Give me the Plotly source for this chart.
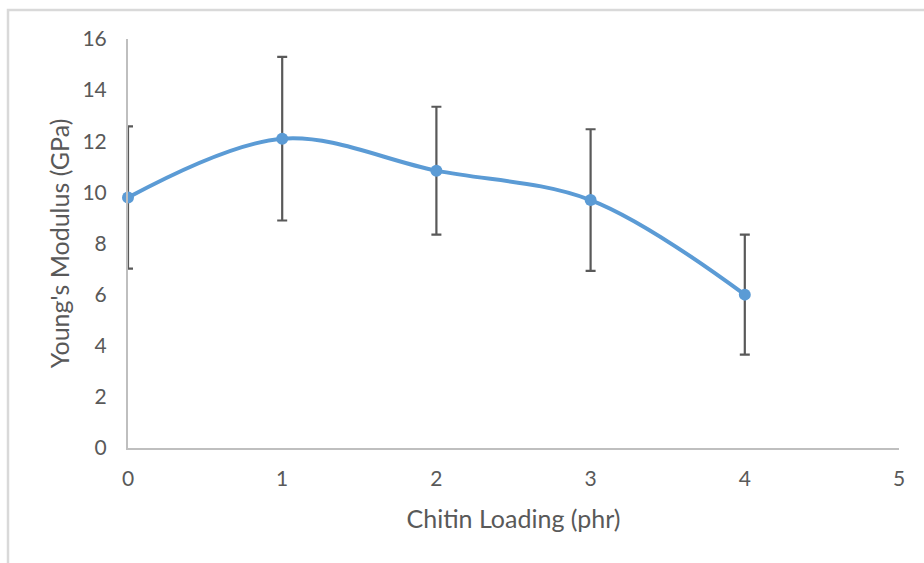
import plotly.graph_objects as go

chitin_loading = [0, 1, 2, 3, 4]
youngs_modulus = [9.8, 12.1, 10.85, 9.7, 6.0]
error = [2.78, 3.2, 2.5, 2.77, 2.35]
x_ticks = [0, 1, 2, 3, 4, 5]
y_ticks = [0, 2, 4, 6, 8, 10, 12, 14, 16]

font = "Lato, 'Open Sans', sans-serif"
grey = "#595959"

fig = go.Figure()
fig.add_trace(go.Scatter(
    x=chitin_loading, y=youngs_modulus,
    mode="lines+markers",
    line=dict(color="#5b9bd5", width=4, shape="spline", smoothing=1),
    marker=dict(color="#5b9bd5", size=12),
    error_y=dict(type="data", array=error, visible=True, color=grey, thickness=2.2, width=5),
    showlegend=False,
    cliponaxis=False,
))

L, R, T, B = 128, 25, 39, 115
pw = 924 - L - R
ph = 563 - T - B

def px_x(p):
    return (p - L) / pw

def px_y(p):
    return (563 - B - p) / ph

fig.add_shape(type="rect", xref="paper", yref="paper",
              x0=px_x(8), x1=px_x(940), y0=px_y(580), y1=px_y(10),
              line=dict(color="#d9d9d9", width=2.5), fillcolor="rgba(0,0,0,0)", layer="below")

fig.update_layout(
    width=924, height=563,
    margin=dict(l=L, r=R, t=T, b=B),
    paper_bgcolor="white", plot_bgcolor="white",
    font=dict(family=font, color=grey, size=21),
    xaxis=dict(range=[0, 5], tickvals=x_ticks, showgrid=False, zeroline=False,
               showline=True, linecolor="#bfbfbf", linewidth=2,
               ticks="", ticklabelstandoff=11,
               title=dict(text="Chitin Loading (phr)", font=dict(size=25, color=grey, family=font), standoff=21)),
    yaxis=dict(range=[0, 16], tickvals=y_ticks, showgrid=False, zeroline=False,
               showline=True, linecolor="#bfbfbf", linewidth=2,
               ticks="", ticklabelstandoff=15,
               title=dict(text="Young's Modulus (GPa)", font=dict(size=25, color=grey, family=font), standoff=6)),
)

fig.write_html("out.html")
